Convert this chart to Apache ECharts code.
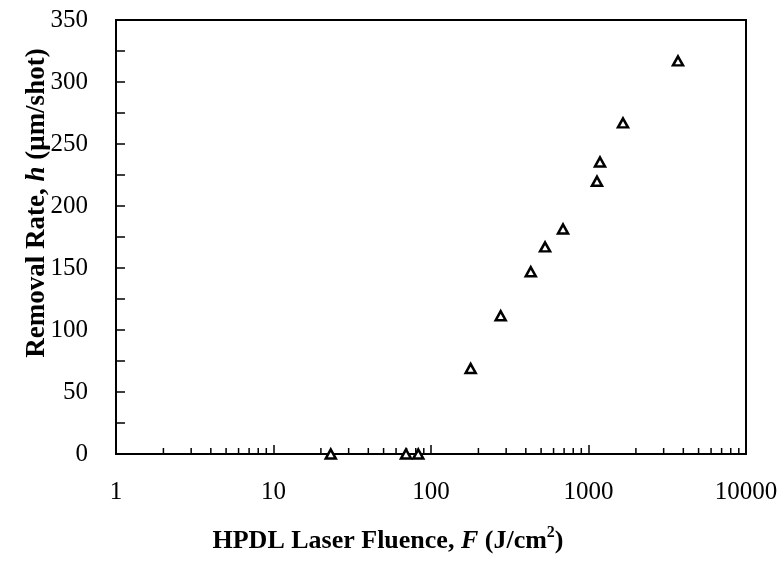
<!DOCTYPE html>
<html>
<head>
<meta charset="utf-8">
<script src="https://cdn.jsdelivr.net/npm/echarts@6/dist/echarts.min.js"></script>
<style>html,body{margin:0;padding:0;background:#fff;}#c{width:782px;height:569px;}</style>
</head>
<body>
<div id="c"></div>
<script>
// Data
var fluence = [23.1, 69.4, 83.0, 178.6, 277, 430, 530, 689, 1132, 1183, 1656, 3700];
var removalRate = [0, 0, 0, 69, 111.5, 147, 167, 181.5, 220, 235.5, 267, 317];
var xMinorTicks = [2,3,4,5,6,7,8,9,20,30,40,50,60,70,80,90,200,300,400,500,600,700,800,900,2000,3000,4000,5000,6000,7000,8000,9000];
var xTitle = 'HPDL Laser Fluence, ';
var yTitle = 'Removal Rate, ';

var FONT = '"Liberation Serif", "Times New Roman", serif';
var chart = echarts.init(document.getElementById('c'), null, {renderer: 'canvas'});

var points = fluence.map(function (f, i) { return [f, removalRate[i]]; });
var minorData = xMinorTicks.map(function (v) { return [v, 0]; });

var option = {
  backgroundColor: '#fff',
  animation: false,
  grid: {left: 116, right: 36, top: 20, bottom: 115, show: true, borderColor: '#000', borderWidth: 2, backgroundColor: 'transparent'},
  xAxis: {
    type: 'log', logBase: 10, min: 1, max: 10000,
    axisLine: {show: true, lineStyle: {color: '#000', width: 2}},
    axisTick: {show: true, inside: true, length: 9, lineStyle: {color: '#000', width: 1.5}},
    axisLabel: {color: '#000', fontFamily: FONT, fontSize: 25, margin: 26, formatter: function (v) { return String(Math.round(v)); }},
    splitLine: {show: false}
  },
  yAxis: {
    type: 'value', min: 0, max: 350, interval: 50,
    axisLine: {show: true, lineStyle: {color: '#000', width: 2}},
    axisTick: {show: true, inside: true, length: 9, lineStyle: {color: '#000', width: 1.5}},
    minorTick: {show: true, splitNumber: 2, length: 9, lineStyle: {color: '#000', width: 1.5}},
    axisLabel: {color: '#000', fontFamily: FONT, fontSize: 25, margin: 28},
    splitLine: {show: false}
  },
  series: [
    {
      type: 'custom',
      data: minorData,
      clip: false,
      silent: true,
      renderItem: function (params, api) {
        var p = api.coord([api.value(0), api.value(1)]);
        return {type: 'line', shape: {x1: p[0], y1: p[1], x2: p[0], y2: p[1] - 6}, style: {stroke: '#000', lineWidth: 1.5}};
      },
      z: 1
    },
    {
      type: 'scatter',
      data: points,
      symbol: 'triangle',
      symbolSize: [10, 9],
      itemStyle: {color: '#fff', borderColor: '#000', borderWidth: 2.5, opacity: 1},
      clip: false,
      z: 5
    }
  ],
  graphic: [
    {
      type: 'text', x: 388, y: 541,
      style: {
        text: '{b|' + xTitle + '}{i|F}{b| (J/cm}{s|2}{b|)}',
        x: 0, y: 0, align: 'center', verticalAlign: 'middle',
        rich: {
          b: {fontFamily: FONT, fontSize: 26, fontWeight: 'bold', color: '#000'},
          i: {fontFamily: FONT, fontSize: 26, fontWeight: 'bold', fontStyle: 'italic', color: '#000'},
          s: {fontFamily: FONT, fontSize: 16, fontWeight: 'bold', color: '#000', verticalAlign: 'top', padding: [0, 0, 16, 0]}
        }
      }
    },
    {
      type: 'text', x: 37, y: 203, rotation: Math.PI / 2,
      style: {
        text: '{b|' + yTitle + '}{i|h}{b| (μm/shot)}',
        x: 0, y: 0, align: 'center', verticalAlign: 'middle',
        rich: {
          b: {fontFamily: FONT, fontSize: 27, fontWeight: 'bold', color: '#000'},
          i: {fontFamily: FONT, fontSize: 27, fontWeight: 'bold', fontStyle: 'italic', color: '#000'}
        }
      }
    }
  ]
};
chart.setOption(option);
</script>
</body>
</html>
